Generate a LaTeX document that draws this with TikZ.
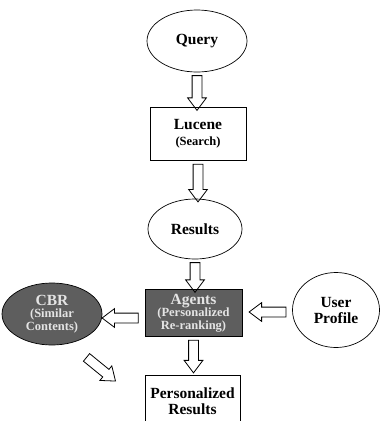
\documentclass[tikz,border=0pt]{standalone}
\usepackage{fontspec}
\setmainfont{Liberation Serif}
\usetikzlibrary{shapes.geometric,shapes.arrows,calc}
\definecolor{boxgray}{HTML}{5E5E5E}
\definecolor{textgray}{HTML}{E4E4E4}
\newcommand\bigsize{\fontsize{15.5}{16}\selectfont}
\newcommand\subsize{\fontsize{12.5}{12.5}\selectfont}
\newcommand\hollowarrow[2]{
  \path let \p1 = ($(#2)-(#1)$), \n1 = {veclen(\x1,\y1)} in (#1) -- (#2)
    node[fat, midway, sloped, allow upside down, minimum height=\n1]{};
}

\begin{document}
\begin{tikzpicture}[x=1pt, y=-1pt, font=\bfseries\bigsize,
  oval/.style = {draw, ellipse, line width=0.7pt, inner sep=0pt, align=center},
  box/.style = {draw, rectangle, line width=0.8pt, inner sep=0pt, align=center},
  dark/.style = {fill=boxgray, text=textgray},
  fat/.style = {draw, single arrow, line width=0.8pt, inner xsep=0pt, inner ysep=4.5pt,
    single arrow head extend=4.5pt, single arrow tip angle=74}]
	\useasboundingbox (0,0) rectangle (380,421);
	\clip (0,0) rectangle (380,421);
	\node[oval, minimum width=100, minimum height=62] (query) at (197, 41){Query};
	\node[box, minimum width=96, minimum height=53] (lucene) at (198, 134){Lucene\\{\subsize (Search)}};
	\node[oval, minimum width=94, minimum height=60] (results) at (195, 229){Results};
	\node[box, dark, minimum width=97, minimum height=47, font=\bfseries\subsize] (agents) at (193.5, 313){{\bigsize Agents}\\(Personalized\\Re-ranking)};
	\node[box, minimum width=95, minimum height=52] (personal) at (192.5, 401){Personalized\\Results};
	\node[oval, dark, minimum width=100, minimum height=62, font=\bfseries\subsize] (cbr) at (52, 314){{\bigsize CBR}\\(Similar\\Contents)};
	\node[oval, minimum width=87, minimum height=75] (user) at (336, 310){User\\Profile};
	\coordinate (pertop) at ($(agents.south |- personal.north)+(0,-5)$);
	\coordinate (cbrout) at (113, 379);
	\hollowarrow{query.south}{query.south |- lucene.north}
	\hollowarrow{lucene.south}{lucene.south |- results.north}
	\hollowarrow{results.south}{results.south |- agents.north}
	\hollowarrow{agents.south}{pertop}
	\hollowarrow{[xshift=-3pt, yshift=-5pt]agents.west}{[xshift=3pt, yshift=-4pt]cbr.east}
	\hollowarrow{[xshift=-3pt, yshift=-2pt]user.west}{[xshift=10pt, yshift=1pt]agents.east}
	\hollowarrow{[xshift=32pt, yshift=-10pt]cbr.south}{cbrout}
\end{tikzpicture}
\end{document}
